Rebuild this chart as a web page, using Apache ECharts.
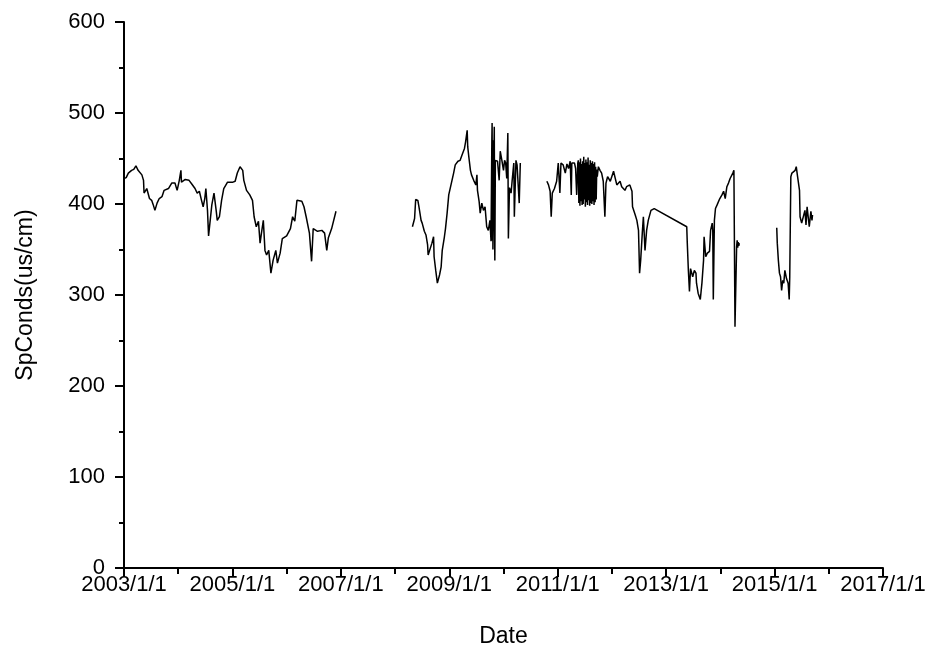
<!DOCTYPE html>
<html><head><meta charset="utf-8">
<script src="https://cdn.jsdelivr.net/npm/echarts@6/dist/echarts.min.js"></script>
<style>html,body{margin:0;padding:0;background:#fff}#c{width:931px;height:655px}</style>
</head><body><div id="c"></div>
<script>
// Axis ranges (decimal years / SpConds)
const xStartYear = 2003;
const xEndYear = 2017;
const yMin = 0, yMax = 600, yStep = 100;
const xAxisTitle = 'Date';
const yAxisTitle = 'SpConds(us/cm)';

// Segment 1: 2003 - late 2006 (decimal year, value)
const seg1Years = [2003.00,2003.04,2003.08,2003.14,2003.18,2003.22,2003.26,2003.33,2003.36,2003.37,2003.42,2003.47,2003.51,2003.54,2003.57,2003.61,2003.65,2003.70,2003.74,2003.82,2003.88,2003.94,2003.98,2004.02,2004.05,2004.06,2004.13,2004.20,2004.25,2004.31,2004.35,2004.39,2004.43,2004.46,2004.49,2004.51,2004.54,2004.56,2004.59,2004.62,2004.66,2004.70,2004.72,2004.76,2004.80,2004.84,2004.91,2005.01,2005.05,2005.09,2005.14,2005.19,2005.21,2005.26,2005.32,2005.37,2005.40,2005.44,2005.48,2005.51,2005.54,2005.57,2005.60,2005.63,2005.67,2005.71,2005.75,2005.80,2005.83,2005.88,2005.92,2006.00,2006.07,2006.11,2006.15,2006.19,2006.28,2006.32,2006.36,2006.42,2006.46,2006.49,2006.57,2006.65,2006.70,2006.74,2006.77,2006.83,2006.91];
const seg1Vals  = [428,429,434,437,438,442,437,432,426,412,417,406,404,399,393,401,406,408,415,417,423,423,415,426,437,424,427,426,422,417,412,414,404,397,406,417,393,365,382,399,412,393,382,386,404,417,424,424,425,434,441,437,426,415,410,404,386,375,381,357,370,382,349,344,349,324,338,349,335,346,362,365,373,386,381,404,403,397,386,368,337,373,370,371,368,349,363,373,392];

// Segment 2: 2008 - early 2010
const seg2Years = [2008.32,2008.36,2008.38,2008.42,2008.44,2008.48,2008.50,2008.54,2008.57,2008.60,2008.61,2008.64,2008.68,2008.71,2008.72,2008.75,2008.78,2008.82,2008.85,2008.87,2008.91,2008.93,2008.96,2008.99,2009.05,2009.08,2009.11,2009.16,2009.20,2009.23,2009.26,2009.28,2009.30,2009.33,2009.34,2009.36,2009.39,2009.41,2009.45,2009.49,2009.51,2009.52,2009.55,2009.57,2009.60,2009.63,2009.66,2009.69,2009.72,2009.75,2009.77,2009.785,2009.79,2009.795,2009.80,2009.805,2009.81,2009.82,2009.83,2009.835,2009.84,2009.85,2009.86,2009.89,2009.92,2009.94,2009.97,2010.00,2010.02,2010.04,2010.06,2010.08,2010.09,2010.11,2010.14,2010.16,2010.19,2010.20,2010.23,2010.25,2010.27,2010.29,2010.31];
const seg2Vals  = [375,384,405,404,397,382,379,370,366,355,344,342,357,364,342,327,313,322,331,349,364,373,390,410,426,434,443,447,448,453,454,461,468,481,463,452,437,432,426,421,432,415,403,390,401,393,397,375,371,382,359,470,489,360,470,350,382,440,485,380,338,448,448,447,426,458,448,437,448,445,428,478,362,418,412,426,445,386,448,443,445,401,445];

// Segment 3: late 2010 - spring 2014
const seg3Years = [2010.80,2010.83,2010.86,2010.88,2010.90,2010.94,2010.98,2011.01,2011.04,2011.06,2011.10,2011.14,2011.17,2011.20,2011.23,2011.25,2011.26,2011.31,2011.33,2011.35,2011.37,
  2011.38,2011.39,2011.40,2011.41,2011.42,2011.43,2011.44,2011.45,2011.46,2011.47,2011.48,2011.49,2011.50,2011.51,2011.52,2011.53,2011.54,2011.55,2011.56,2011.57,2011.58,2011.59,2011.60,2011.61,2011.62,2011.63,2011.64,2011.65,2011.66,2011.67,2011.68,2011.69,2011.70,2011.71,2011.72,2011.73,
  2011.75,2011.78,2011.81,2011.84,2011.87,2011.89,2011.92,2011.97,2012.03,2012.09,2012.15,2012.18,2012.24,2012.27,2012.33,2012.37,2012.38,2012.43,2012.46,2012.49,2012.51,2012.53,2012.56,2012.58,2012.61,2012.64,2012.67,2012.72,2012.78,
  2013.38,2013.39,2013.41,2013.43,2013.45,2013.49,2013.52,2013.55,2013.56,2013.59,2013.63,2013.66,2013.69,2013.70,2013.73,2013.76,2013.80,2013.82,2013.85,2013.86,2013.87,2013.89,2013.91,2013.94,2013.99,2014.03,2014.06,2014.09,2014.12,2014.15,2014.18,2014.23,2014.25,2014.27,2014.30,2014.31,2014.32,2014.33,2014.34,2014.35];
const seg3Vals  = [425,421,414,386,412,417,425,445,412,445,443,434,444,439,447,410,445,445,439,410,445,
  448,401,446,398,450,403,444,399,447,400,452,405,445,397,449,402,446,399,451,404,443,398,448,401,445,400,447,403,444,399,446,402,441,405,438,430,
  441,437,434,425,386,423,430,425,436,421,425,419,415,419,421,414,397,388,382,371,324,338,368,386,349,371,382,393,395,
  375,357,327,304,329,320,327,324,313,302,295,313,338,364,342,346,348,371,379,371,295,382,395,399,406,410,414,406,419,423,428,434,437,265,353,360,352,358,354,357];

// Segment 4: 2015
const seg4Years = [2015.04,2015.05,2015.07,2015.09,2015.11,2015.13,2015.15,2015.17,2015.19,2015.22,2015.25,2015.27,2015.28,2015.30,2015.32,2015.35,2015.38,2015.40,2015.42,2015.44,2015.46,2015.47,2015.50,2015.53,2015.56,2015.58,2015.60,2015.62,2015.64,2015.67,2015.69,2015.70];
const seg4Vals  = [374,357,338,324,320,305,316,313,327,318,313,295,320,430,434,436,437,441,432,430,415,386,379,381,393,377,397,386,375,392,382,388];

const segments = [[seg1Years, seg1Vals],[seg2Years, seg2Vals],[seg3Years, seg3Vals],[seg4Years, seg4Vals]];
const FONT = "'Liberation Sans', Arial, sans-serif";

const chart = echarts.init(document.getElementById('c'), null, {renderer: 'canvas'});
chart.setOption({
  animation: false,
  backgroundColor: '#ffffff',
  grid: {left: 124, right: 48, top: 22, bottom: 87},
  xAxis: {
    type: 'value', min: 0, max: xEndYear - xStartYear, interval: 2,
    name: xAxisTitle, nameLocation: 'middle', nameGap: 57,
    nameTextStyle: {fontFamily: FONT, fontSize: 23, color: '#000'},
    axisLine: {show: true, onZero: false, lineStyle: {color: '#000', width: 2}},
    axisTick: {show: true, inside: false, length: 9, lineStyle: {color: '#000', width: 2}},
    minorTick: {show: true, splitNumber: 2, length: 6, lineStyle: {color: '#000', width: 2}},
    axisLabel: {margin: 6, fontFamily: FONT, fontSize: 22, color: '#000',
      formatter: v => (xStartYear + v) + '/1/1'},
    splitLine: {show: false}
  },
  yAxis: {
    type: 'value', min: yMin, max: yMax, interval: yStep,
    name: yAxisTitle, nameLocation: 'middle', nameGap: 87, nameRotate: 90,
    nameTextStyle: {fontFamily: FONT, fontSize: 23, color: '#000'},
    axisLine: {show: true, onZero: false, lineStyle: {color: '#000', width: 2}},
    axisTick: {show: true, inside: false, length: 9, lineStyle: {color: '#000', width: 2}},
    minorTick: {show: true, splitNumber: 2, length: 5, lineStyle: {color: '#000', width: 2}},
    axisLabel: {margin: 19, fontFamily: FONT, fontSize: 22, color: '#000'},
    splitLine: {show: false}
  },
  series: segments.map(([yrs, vals]) => ({
    type: 'line', showSymbol: false, symbol: 'none', silent: true,
    lineStyle: {color: '#000', width: 1.5},
    data: yrs.map((y, i) => [y - xStartYear, vals[i]])
  }))
});
</script></body></html>
